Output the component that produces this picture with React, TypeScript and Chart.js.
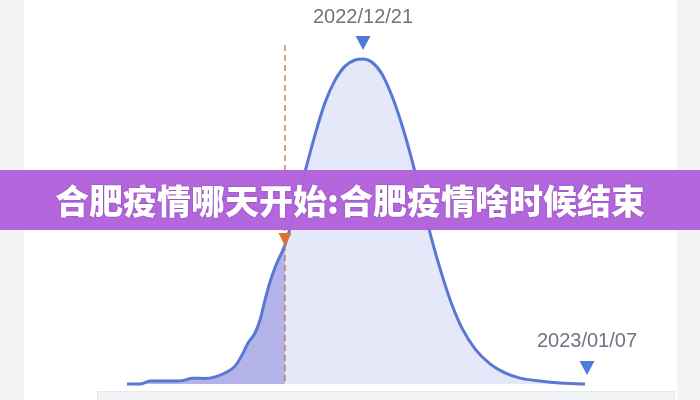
import React, { useEffect, useRef } from "react";
import { Chart, registerables } from "chart.js";

Chart.register(...registerables);

// x = days since 2022/12/03, y = relative case level (peak = 100)
const curveDays = [0, 0.99, 1.75, 2.51, 3.65, 4.41, 4.95, 5.93, 6.7, 7.46, 8.22, 8.75, 9.21, 9.74, 10.12, 10.5, 10.88, 11.34, 12.02, 12.78, 13.54, 14.3, 15.06, 15.83, 16.59, 17.35, 17.96, 18.64, 19.4, 20.16, 20.92, 21.68, 22.44, 23.2, 23.97, 24.73, 25.49, 26.48, 27.62, 28.76, 29.9, 31.42, 32.94, 34.85];
const curveValues = [0, 0, 0.9, 0.9, 0.9, 1.2, 1.8, 1.7, 2.2, 3.4, 5.5, 8.9, 12.6, 15.7, 19.7, 25.8, 31.4, 36.6, 42.8, 53.5, 65.2, 76.6, 86.5, 93.5, 97.8, 99.7, 100, 99, 95.4, 88.6, 79.7, 68.9, 56.6, 44.3, 33.5, 24.3, 17.2, 10.8, 6.2, 3.4, 1.8, 0.9, 0.3, 0];

const markerDash = 12.02; // dashed line day
const peakDay = 17.96;
const peakLabel = "2022/12/21";
const endDay = 35;
const endLabel = "2023/01/07";
const bannerText = "合肥疫情哪天开始:合肥疫情啥时候结束";

const points = curveDays.map((d, i) => ({ x: d, y: curveValues[i] }));
const earlyPoints = points.filter((p) => p.x <= markerDash + 0.001);

const overlayPlugin = {
  id: "overlay",
  afterDatasetsDraw(chart: any) {
    const { ctx, scales } = chart;
    const xs = scales.x;
    const ys = scales.y;
    const tri = (cx: number, top: number, w: number, h: number, color: string) => {
      ctx.beginPath();
      ctx.moveTo(cx - w / 2, top);
      ctx.lineTo(cx + w / 2, top);
      ctx.lineTo(cx, top + h);
      ctx.closePath();
      ctx.fillStyle = color;
      ctx.fill();
    };
    const label = (text: string, x: number, y: number) => {
      ctx.fillStyle = "#6d7580";
      ctx.font = "20px 'Liberation Sans', Arial, sans-serif";
      ctx.textAlign = "center";
      ctx.textBaseline = "middle";
      ctx.fillText(text, x, y);
    };
    ctx.save();
    // dashed marker line
    const dx = xs.getPixelForValue(markerDash);
    ctx.strokeStyle = "rgba(196,118,80,0.9)";
    ctx.lineWidth = 1.5;
    ctx.setLineDash([6, 4]);
    ctx.beginPath();
    ctx.moveTo(dx, ys.getPixelForValue(100) - 14);
    ctx.lineTo(dx, ys.getPixelForValue(0));
    ctx.stroke();
    ctx.setLineDash([]);
    tri(dx, ys.getPixelForValue(42.8) - 12, 13, 13, "#e2702e");

    // peak label
    const px = xs.getPixelForValue(peakDay);
    const top = ys.getPixelForValue(100);
    tri(px, top - 23, 15, 14, "#4f7bd8");
    label(peakLabel, px, top - 42);

    // end label
    const ex = xs.getPixelForValue(endDay);
    const base = ys.getPixelForValue(0);
    tri(ex, base - 23, 15, 14, "#4f7bd8");
    label(endLabel, ex, base - 43);
    ctx.restore();
  },
};

export default function App() {
  const ref = useRef<HTMLCanvasElement | null>(null);
  useEffect(() => {
    if (!ref.current) return;
    const chart = new Chart(ref.current, {
      type: "line",
      data: {
        datasets: [
          {
            data: points,
            borderColor: "#5878d4",
            borderWidth: 3,
            pointRadius: 0,
            fill: false,
            cubicInterpolationMode: "monotone",
            order: 0,
            clip: false as any,
          },
          {
            data: earlyPoints,
            borderWidth: 0,
            borderColor: "rgba(0,0,0,0)",
            backgroundColor: "#b3b3e9",
            pointRadius: 0,
            fill: "origin",
            cubicInterpolationMode: "monotone",
            order: 1,
          },
          {
            data: points,
            borderWidth: 0,
            borderColor: "rgba(0,0,0,0)",
            backgroundColor: "#e4e8f9",
            pointRadius: 0,
            fill: "origin",
            cubicInterpolationMode: "monotone",
            order: 2,
          },
        ],
      },
      options: {
        responsive: false,
        animation: false,
        layout: { padding: { left: 127, right: 113, top: 59, bottom: 16 } },
        scales: {
          x: { type: "linear", min: 0, max: 35, display: false },
          y: { min: 0, max: 100, display: false },
        },
        plugins: { legend: { display: false }, tooltip: { enabled: false } },
      },
      plugins: [overlayPlugin],
    });
    return () => chart.destroy();
  }, []);

  return (
    <div style={{ position: "fixed", left: 0, top: 0, width: 700, height: 400, background: "#f4f4f4", overflow: "hidden" }}>
      <div style={{ position: "absolute", left: 24, top: 0, width: 653, height: 400, background: "#ffffff" }} />
      <div style={{ position: "absolute", left: 97, top: 391, width: 576, height: 12, background: "#f3f4f7", border: "1px solid #e6e8ee" }} />
      <canvas ref={ref} width={700} height={400} style={{ position: "absolute", left: 0, top: 0 }} />
      <div
        style={{
          position: "absolute",
          left: 0,
          top: 170,
          width: 700,
          height: 60,
          background: "rgba(178,98,220,0.97)",
          color: "#ffffff",
          fontFamily: "'Noto Sans CJK SC', sans-serif",
          fontWeight: 900,
          fontSize: 34,
          lineHeight: "60px",
          textAlign: "center",
          whiteSpace: "nowrap",
          letterSpacing: 0,
          textShadow: "0 0 2px rgba(80,30,110,0.5)",
        }}
      >
        {bannerText}
      </div>
    </div>
  );
}
